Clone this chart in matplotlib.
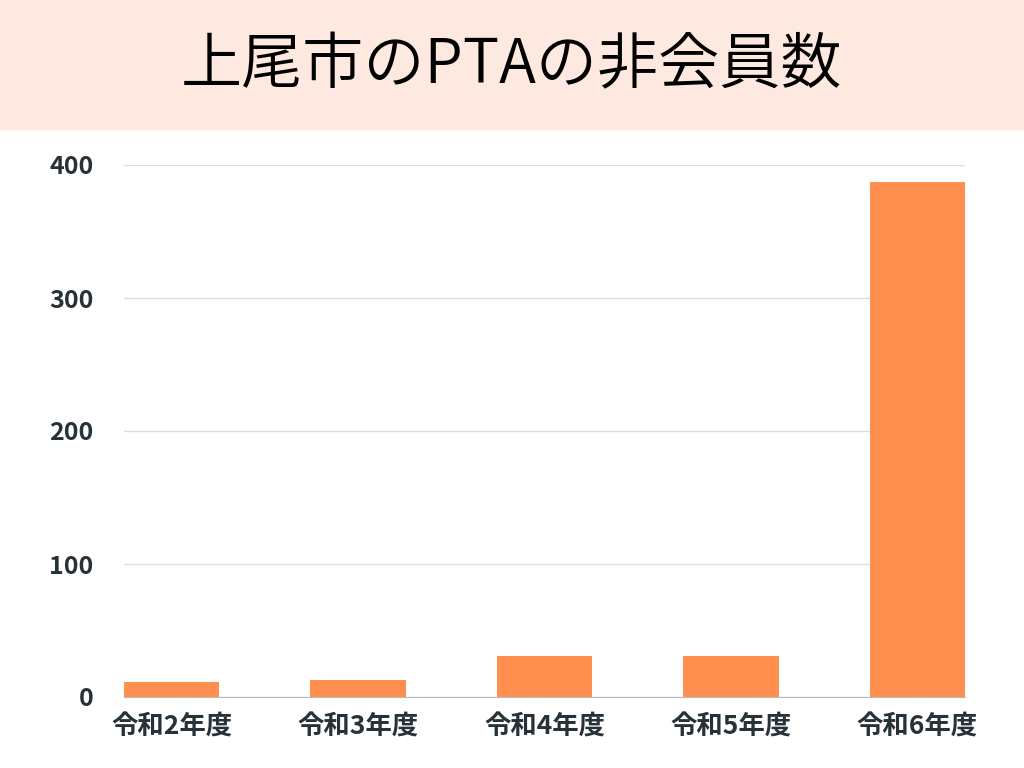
import matplotlib
matplotlib.use('Agg')
import matplotlib.pyplot as plt
from matplotlib.patches import Rectangle

plt.rcParams['font.family'] = ['Noto Sans CJK JP', 'DejaVu Sans']

years = ['令和2年度', '令和3年度', '令和4年度', '令和5年度', '令和6年度']
non_members = [11, 13, 31, 31, 387]
y_ticks = [0, 100, 200, 300, 400]
title = '上尾市のPTAの非会員数'

fig = plt.figure(figsize=(10.24, 7.68), dpi=100)
fig.set(facecolor='white')

# peach title band
fig.patches.append(Rectangle((0, 1 - 130 / 768), 1, 130 / 768, transform=fig.transFigure,
                             facecolor='#fde9df', edgecolor='none', zorder=0))
fig.text(0.5, 1 - 66 / 768, title, ha='center', va='center', fontsize=44,
         fontweight=350, color='black')

ax = fig.add_axes([124 / 1024, 1 - 697 / 768, (965 - 124) / 1024, (697 - 165) / 768])
x = range(len(years))
ax.bar(x, non_members, width=0.51, color='#ff8f4f', zorder=3)
ax.set_xlim(-0.255, len(years) - 1 + 0.255)
ax.set_ylim(0, 400)
ax.set_yticks(y_ticks)
ax.set_xticks(list(x))
ax.set_xticklabels(years)
ax.grid(axis='y', color='#dddddd', linewidth=1, zorder=0)
for s in ['top', 'right', 'left']:
    ax.spines[s].set_visible(False)
ax.spines['bottom'].set_color('#bbbbbb')
ax.tick_params(length=0)
ax.tick_params(axis='y', pad=22, labelsize=18, labelcolor='#263238')
ax.tick_params(axis='x', pad=12, labelsize=19, labelcolor='#263238')
for lab in ax.get_yticklabels() + ax.get_xticklabels():
    lab.set_fontweight('bold')

fig.savefig('out.png', dpi=100)
